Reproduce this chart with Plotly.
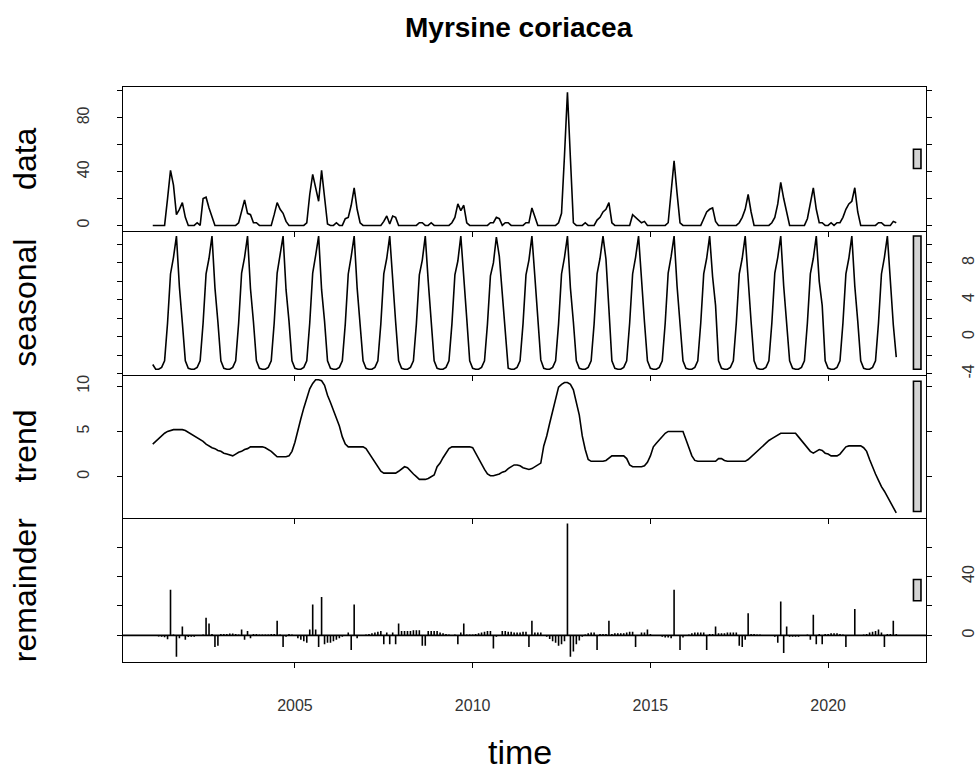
import plotly.graph_objects as go

# ---------------- data (monthly, Jan..Dec, 2001-2021) ----------------
years = list(range(2001, 2022))

data_rows = [
    [0, 0, 0, 0, 0, 20, 41, 30, 8, 12, 17, 6],    # 2001
    [0, 0, 0, 2, 0, 20, 21, 13, 6, 0, 0, 0],      # 2002
    [0, 0, 0, 0, 0, 2, 10, 19, 9, 8, 2, 2],       # 2003
    [0, 0, 0, 0, 0, 8, 17, 12, 9, 3, 0, 0],       # 2004
    [0, 0, 0, 0, 2, 23, 38, 29, 18, 41, 21, 1],   # 2005
    [0, 0, 2, 0, 0, 5, 6, 15, 28, 12, 2, 0],      # 2006
    [0, 0, 0, 0, 0, 0, 3, 7, 1, 7, 6, 0],         # 2007
    [0, 0, 0, 0, 0, 0, 2, 2, 0, 0, 2, 0],         # 2008
    [0, 0, 0, 0, 0, 2, 6, 16, 11, 15, 2, 0],      # 2009
    [0, 0, 0, 0, 0, 0, 2, 2, 6, 5, 0, 2],         # 2010
    [2, 0, 0, 0, 0, 0, 2, 2, 13, 6, 0, 0],        # 2011
    [0, 0, 0, 0, 0, 2, 9, 52, 99, 50, 2, 0],      # 2012
    [0, 0, 2, 0, 0, 0, 4, 6, 10, 12, 17, 2],      # 2013
    [0, 0, 0, 0, 0, 0, 8, 6, 4, 2, 3, 0],         # 2014
    [0, 0, 0, 0, 0, 0, 2, 26, 48, 24, 2, 0],      # 2015
    [0, 0, 0, 0, 0, 0, 5, 10, 12, 13, 3, 0],      # 2016
    [0, 0, 0, 0, 0, 0, 2, 6, 12, 23, 10, 0],      # 2017
    [0, 0, 0, 0, 0, 2, 6, 16, 32, 20, 9, 0],      # 2018
    [0, 0, 0, 0, 0, 5, 16, 28, 12, 2, 2, 0],      # 2019
    [0, 2, 0, 2, 2, 6, 12, 16, 18, 28, 10, 0],    # 2020
    [0, 0, 0, 0, 0, 2, 2, 0, 0, 0, 3, 2],         # 2021
]

seasonal_rows = [
    [-3.0, -3.5, -3.5, -3.3, -2.6, 1.5, 6.8, 8.6, 10.9, 5.4, 1.5, -2.6],
    [-3.4, -3.5, -3.5, -3.3, -2.6, 1.5, 6.8, 8.5, 10.9, 5.3, 1.6, -2.6],
    [-3.4, -3.5, -3.5, -3.3, -2.6, 1.5, 6.9, 8.6, 10.9, 5.2, 1.6, -2.6],
    [-3.4, -3.5, -3.5, -3.3, -2.6, 1.5, 6.9, 8.7, 10.9, 5.1, 1.7, -2.6],
    [-3.4, -3.5, -3.5, -3.3, -2.6, 1.5, 6.9, 8.8, 10.9, 5.1, 1.7, -2.6],
    [-3.4, -3.5, -3.5, -3.3, -2.6, 1.4, 6.8, 8.7, 10.9, 5.3, 1.6, -2.6],
    [-3.4, -3.5, -3.5, -3.3, -2.6, 1.4, 6.8, 8.5, 10.9, 5.6, 1.6, -2.6],
    [-3.4, -3.5, -3.5, -3.3, -2.6, 1.4, 6.7, 8.3, 10.9, 6.0, 1.7, -2.6],
    [-3.4, -3.5, -3.5, -3.3, -2.6, 1.4, 6.7, 8.2, 10.9, 6.8, 2.0, -2.6],
    [-3.4, -3.5, -3.5, -3.3, -2.6, 1.4, 6.6, 8.0, 10.8, 8.7, 4.8, 1.3],
    [-3.4, -3.5, -3.5, -3.3, -2.6, 1.4, 6.7, 8.3, 10.9, 6.5, 2.0, -2.5],
    [-3.4, -3.5, -3.5, -3.3, -2.6, 1.4, 6.8, 8.6, 10.9, 5.3, 1.6, -2.6],
    [-3.4, -3.5, -3.5, -3.3, -2.6, 1.4, 6.8, 8.5, 10.9, 8.4, 3.0, -2.6],
    [-3.4, -3.5, -3.5, -3.3, -2.6, 1.5, 6.8, 8.6, 10.9, 5.8, 1.6, -2.6],
    [-3.4, -3.5, -3.5, -3.3, -2.6, 1.5, 6.9, 8.7, 10.9, 5.5, 1.6, -2.6],
    [-3.4, -3.5, -3.5, -3.3, -2.6, 1.5, 6.8, 8.5, 10.9, 6.5, 3.4, -2.6],
    [-3.4, -3.5, -3.5, -3.3, -2.6, 1.5, 6.8, 8.5, 10.9, 5.6, 1.6, -2.6],
    [-3.4, -3.5, -3.5, -3.3, -2.6, 1.5, 6.9, 8.6, 10.9, 5.5, 1.6, -2.6],
    [-3.4, -3.5, -3.5, -3.3, -2.6, 1.5, 6.8, 8.5, 10.9, 6.0, 3.4, -2.6],
    [-3.4, -3.5, -3.5, -3.3, -2.6, 1.5, 6.8, 8.5, 10.9, 5.5, 1.7, -2.6],
    [-3.4, -3.5, -3.5, -3.3, -2.6, 1.5, 6.8, 8.6, 10.9, 5.5, 1.3, -2.2],
]

trend_rows = [
    [3.6, 3.9, 4.3, 4.6, 4.8, 5.0, 5.1, 5.2, 5.2, 5.2, 5.2, 5.1],
    [4.9, 4.7, 4.5, 4.3, 4.1, 3.9, 3.6, 3.4, 3.2, 3.1, 2.9, 2.8],
    [2.6, 2.5, 2.4, 2.3, 2.5, 2.7, 2.8, 3.0, 3.1, 3.3, 3.3, 3.3],
    [3.3, 3.3, 3.2, 3.0, 2.8, 2.5, 2.2, 2.2, 2.2, 2.2, 2.3, 2.8],
    [3.8, 5.2, 6.4, 7.6, 8.6, 9.7, 10.3, 10.7, 10.7, 10.6, 10.1, 9.0],
    [8.2, 7.4, 6.5, 5.6, 4.4, 3.6, 3.3, 3.3, 3.3, 3.3, 3.3, 3.3],
    [3.1, 2.6, 2.1, 1.5, 1.0, 0.6, 0.4, 0.4, 0.4, 0.4, 0.4, 0.6],
    [0.9, 1.1, 1.0, 0.6, 0.3, 0.0, -0.3, -0.3, -0.3, -0.2, 0.0, 0.2],
    [1.1, 1.5, 2.1, 2.6, 3.1, 3.3, 3.3, 3.3, 3.3, 3.3, 3.3, 3.3],
    [3.2, 2.6, 2.0, 1.3, 0.8, 0.3, 0.1, 0.1, 0.2, 0.3, 0.5, 0.6],
    [0.9, 1.1, 1.3, 1.3, 1.2, 1.0, 0.9, 0.8, 0.9, 1.1, 1.3, 1.5],
    [3.4, 4.5, 5.9, 7.2, 8.7, 9.9, 10.2, 10.4, 10.4, 10.2, 9.6, 8.2],
    [6.8, 4.5, 3.0, 1.9, 1.7, 1.7, 1.7, 1.7, 1.7, 1.8, 2.1, 2.3],
    [2.3, 2.3, 2.3, 2.3, 2.0, 1.3, 1.1, 1.1, 1.1, 1.1, 1.2, 1.6],
    [2.3, 3.3, 3.7, 4.1, 4.5, 4.8, 5.0, 5.0, 5.0, 5.0, 5.0, 5.0],
    [4.1, 3.2, 2.3, 1.8, 1.7, 1.7, 1.7, 1.7, 1.7, 1.7, 1.7, 2.0],
    [2.0, 1.8, 1.7, 1.7, 1.7, 1.7, 1.7, 1.7, 1.7, 1.9, 2.2, 2.5],
    [2.9, 3.1, 3.4, 3.7, 4.0, 4.2, 4.4, 4.6, 4.8, 4.8, 4.8, 4.8],
    [4.8, 4.8, 4.4, 4.0, 3.6, 3.1, 2.8, 2.6, 2.8, 3.0, 2.9, 2.6],
    [2.5, 2.3, 2.3, 2.3, 2.5, 2.9, 3.3, 3.4, 3.4, 3.4, 3.4, 3.4],
    [3.2, 2.8, 1.9, 1.0, 0.3, -0.4, -1.1, -1.6, -2.2, -2.8, -3.4, -4.0],
]

remainder_rows = [
    [0, -0.5, -0.8, -1, -1.3, -2.7, 31, 0.5, -14.5, -2, 6, -3],
    [-1.2, -1, -1, -0.5, -0.5, 0.5, 12, 8, 1, -8, -7, 1],
    [1, 1, 1.2, 1.2, 1, 0.5, 4, -3, 3, -2, 1, 1],
    [0.5, 0.5, 0.5, 0.5, 1, 1, 10, 0.5, -8, -1, 1, 0.5],
    [-0.5, -2, -3, -4, -5, 4, 21, 4, -8, 26, -6, -5],
    [-5, -4, -3, -2, -1, 0, 2, -10, 21, -2, 0, 0],
    [0.5, 1, 1.5, 2, 2.5, 3, -6, 2, -6, 2, -6, 8],
    [3, 3, 3, 3, 3.5, 3.5, 3.5, -7, -7, 3, 3, 3],
    [3, 2, 1.5, 1, 0.5, 0, 0.5, -6, 2, 8, 0.5, 0.5],
    [0.5, 1, 1.5, 2, 2.5, 3, 3, -9, -1, 0, 3, 3],
    [2.5, 2.5, 2, 2, 2, 2.5, 2.5, -8, 10, 2, 2, 2],
    [0, -1, -2.5, -4, -5, -7, -6, -4, 76, -14.5, -11, -6],
    [-3.5, -1, 0.5, 1.5, 2, 2, -10, 1, 1, 1, 10, 1],
    [1.5, 1.5, 1.5, 1.5, 2, 2.5, 2.5, -8, 0, 2, 2, 4],
    [1, 0, 0, -0.5, -1, -1.5, -1.5, -2, 31, 0, -10, -1.5],
    [-0.5, 0.5, 1.5, 2, 2, 2, 2, -10, 1, 1, 6, 1.5],
    [1.5, 1.5, 2, 2, 2, 2, -7, -8, -3, 15, 1, 1],
    [0.5, 0.5, 0, 0, -0.5, -0.5, -1, -5, 23, -12, 6, -1],
    [-1, -1, -1, -0.5, 0, 0.5, -3, 14, -6, 1, -6, 1],
    [1, 1.5, 1.5, 1.5, 1, 0.5, -8, 0, 0, 18, 0, 0],
    [0.5, 1, 2, 2.5, 3, 4, 2, -8, 1, 1, 10, 1],
]

panel_names = ["data", "seasonal", "trend", "remainder"]
x_tick_vals = [2005, 2010, 2015, 2020]
x_tick_text = ["2005", "2010", "2015", "2020"]
y_tick_vals = [
    [0, 20, 40, 60, 80, 100],
    [-4, -2, 0, 2, 4, 6, 8, 10],
    [0, 5, 10],
    [0, 20, 40, 60],
]
y_tick_text = [
    ["0", "", "40", "", "80", ""],
    ["-4", "", "0", "", "4", "", "8", ""],
    ["0", "5", "10"],
    ["0", "", "40", ""],
]
title_text = "Myrsine coriacea"
x_label = "time"

# ---------------- build ----------------
def flat(rows):
    return [v for r in rows for v in r]

time = [y + k / 12 for y in years for k in range(12)]
series = [flat(data_rows), flat(seasonal_rows), flat(trend_rows), flat(remainder_rows)]

t0, t1 = time[0], time[-1]
span = t1 - t0
xr = [t0 - 0.04 * span, t1 + 0.04 * span]

ranges = []
for s in series:
    lo, hi = min(s), max(s)
    pad = 0.04 * (hi - lo)
    ranges.append([lo - pad, hi + pad])
mx = min(max(s) - min(s) for s in series)

FONT = "Liberation Sans, Arial, sans-serif"
LW = 1.6
AX_LW = 1.4
TICK_FONT = dict(size=16, family=FONT, color="#333")
fig = go.Figure()

for i, s in enumerate(series):
    xa = "x" if i == 0 else f"x{i+1}"
    ya = "y" if i == 0 else f"y{i+1}"
    if i < 3:
        fig.add_trace(go.Scatter(x=time, y=s, mode="lines", xaxis=xa, yaxis=ya,
                                 line=dict(color="black", width=LW),
                                 showlegend=False, hoverinfo="skip"))
    else:
        hx, hy = [], []
        for t, v in zip(time, s):
            hx += [t, t, None]
            hy += [0, v, None]
        fig.add_trace(go.Scatter(x=hx, y=hy, mode="lines", xaxis=xa, yaxis=ya,
                                 line=dict(color="black", width=LW),
                                 showlegend=False, hoverinfo="skip"))

layout = dict(
    width=980, height=772,
    margin=dict(l=123, r=54, t=87, b=110, autoexpand=False),
    paper_bgcolor="white", plot_bgcolor="white",
    font=dict(family=FONT, color="black"),
    showlegend=False,
)

n = 4
for i in range(n):
    top = 1 - i / n
    bot = 1 - (i + 1) / n
    xk = "xaxis" if i == 0 else f"xaxis{i+1}"
    yk = "yaxis" if i == 0 else f"yaxis{i+1}"
    ya = "y" if i == 0 else f"y{i+1}"
    xa = "x" if i == 0 else f"x{i+1}"
    right = (i % 2 == 1)
    layout[xk] = dict(
        domain=[0, 1], anchor=ya, range=xr, automargin=False,
        tickvals=x_tick_vals, ticktext=x_tick_text,
        showticklabels=(i == n - 1),
        ticks="outside", ticklen=5, tickwidth=1.3, tickcolor="black",
        showline=True, linecolor="black", linewidth=AX_LW, mirror=(i == 0),
        showgrid=False, zeroline=False,
        tickfont=TICK_FONT,
        ticklabelstandoff=24,
    )
    layout[yk] = dict(
        domain=[bot, top], anchor=xa, range=ranges[i], automargin=False,
        tickvals=y_tick_vals[i], ticktext=y_tick_text[i],
        side="right" if right else "left",
        ticks="outside", ticklen=5, tickwidth=1.3, tickcolor="black",
        showline=True, linecolor="black", linewidth=AX_LW, mirror="ticks",
        showgrid=False, zeroline=False, tickangle=-90,
        tickfont=TICK_FONT,
        ticklabelstandoff=23 if right else 21,
    )

fig.update_layout(**layout)

shapes = []
dx = (xr[1] - xr[0]) / 64
for i, s in enumerate(series):
    ya = "y" if i == 0 else f"y{i+1}"
    xa = "x" if i == 0 else f"x{i+1}"
    mid = (min(s) + max(s)) / 2
    shapes.append(dict(type="rect", xref=xa, yref=ya,
                       x0=xr[1] - dx, x1=xr[1] - 0.4 * dx,
                       y0=mid - mx / 2, y1=mid + mx / 2,
                       fillcolor="#D3D3D3", line=dict(color="black", width=LW)))
shapes.append(dict(type="line", xref="paper", yref="y4", x0=0, x1=1, y0=0, y1=0,
                   line=dict(color="black", width=LW)))
fig.update_layout(shapes=shapes)

annotations = []
for i, name in enumerate(panel_names):
    annotations.append(dict(text=name, xref="paper", yref="paper",
                            x=-0.122, y=1 - (i + 0.5) / n, textangle=-90,
                            showarrow=False, xanchor="center", yanchor="middle",
                            font=dict(size=32, family=FONT, color="black")))
annotations.append(dict(text=x_label, xref="paper", yref="paper", x=0.494, y=-0.157,
                        showarrow=False, xanchor="center", yanchor="middle",
                        font=dict(size=34, family=FONT, color="black")))
annotations.append(dict(text="<b>" + title_text + "</b>", xref="paper", yref="paper",
                        x=0.493, y=1.103, showarrow=False, xanchor="center", yanchor="middle",
                        font=dict(size=28, family=FONT, color="black")))
fig.update_layout(annotations=annotations)

fig.write_html("out.html")
